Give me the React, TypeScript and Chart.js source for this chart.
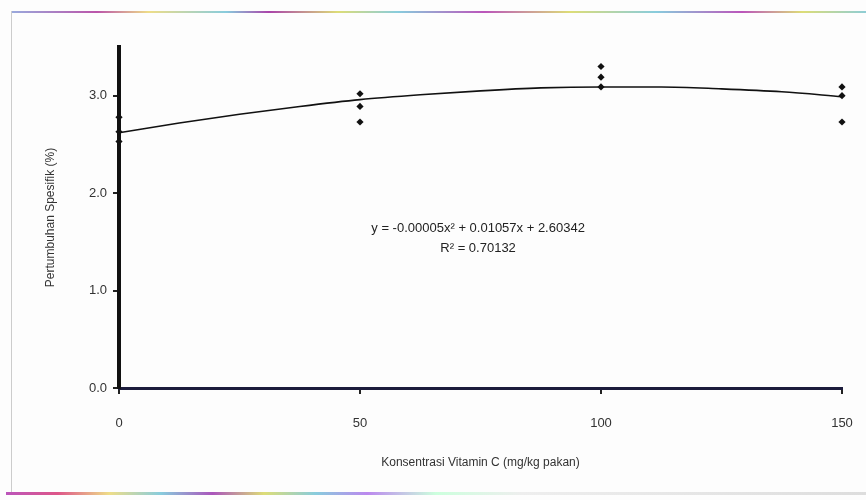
import React, { useEffect, useRef } from "react";
import { Chart, registerables } from "chart.js";

Chart.register(...registerables);

// Observed specific growth (%) per vitamin C dose (mg/kg feed)
const obsX = [0, 0, 0, 50, 50, 50, 100, 100, 100, 150, 150, 150];
const obsY = [2.78, 2.63, 2.53, 3.02, 2.89, 2.73, 3.3, 3.19, 3.09, 3.09, 3.0, 2.73];

// Polynomial trend line
const trendX = [0, 12.5, 25, 37.5, 50, 62.5, 75, 87.5, 100, 112.5, 125, 137.5, 150];
const trendY = [2.62, 2.72, 2.81, 2.89, 2.96, 3.01, 3.05, 3.08, 3.09, 3.09, 3.07, 3.04, 2.99];

const xTicks = [0, 50, 100, 150];
const yTicks = [0, 1, 2, 3];

const equationText = "y = -0.00005x\u00B2 + 0.01057x + 2.60342";
const r2Text = "R\u00B2 = 0.70132";
const xTitle = "Konsentrasi Vitamin C (mg/kg pakan)";
const yTitle = "Pertumbuhan Spesifik (%)";

const FONT = "'Liberation Sans', Arial, sans-serif";

export default function App() {
  const ref = useRef<HTMLCanvasElement | null>(null);

  useEffect(() => {
    document.body.style.margin = "0";
    const canvas = ref.current;
    if (!canvas) return;

    const textPlugin = {
      id: "equationText",
      afterDatasetsDraw(chart: any) {
        const { ctx, scales } = chart;
        const cx = scales.x.getPixelForValue(74.5);
        ctx.save();
        ctx.fillStyle = "#222";
        ctx.font = `13px ${FONT}`;
        ctx.textAlign = "center";
        ctx.textBaseline = "middle";
        ctx.fillText(equationText, cx, scales.y.getPixelForValue(1.64));
        ctx.fillText(r2Text, cx, scales.y.getPixelForValue(1.43));
        ctx.restore();
      },
    };

    const chart = new Chart(canvas, {
      type: "scatter",
      data: {
        datasets: [
          {
            type: "line",
            label: "Trend",
            data: trendX.map((x, i) => ({ x, y: trendY[i] })),
            borderColor: "#111",
            borderWidth: 1.6,
            pointRadius: 0,
            fill: false,
            clip: false,
            cubicInterpolationMode: "monotone",
          } as any,
          {
            label: "Observasi",
            data: obsX.map((x, i) => ({ x, y: obsY[i] })),
            backgroundColor: "#111",
            borderColor: "#111",
            pointStyle: "rectRot",
            pointRadius: 3.6,
            borderWidth: 0,
            clip: false,
          } as any,
        ],
      },
      options: {
        responsive: false,
        animation: false,
        devicePixelRatio: 1,
        layout: { padding: { left: 0, top: 47, right: 24, bottom: 0 } },
        plugins: { legend: { display: false }, tooltip: { enabled: false } },
        scales: {
          x: {
            type: "linear",
            min: 0,
            max: 150,
            afterBuildTicks: (s: any) => {
              s.ticks = xTicks.map((v) => ({ value: v }));
            },
            afterFit: (s: any) => {
              s.height = 112;
              s.paddingRight = 0;
              s.paddingLeft = 0;
            },
            border: { display: true, color: "#1c1c3c", width: 3 },
            grid: { display: true, drawOnChartArea: false, drawTicks: true, tickLength: 6, color: "#222", lineWidth: 2 },
            ticks: {
              padding: 22,
              color: "#333",
              font: { family: FONT, size: 13 },
              callback: (v: any) => String(v),
            },
            title: {
              display: true,
              text: xTitle,
              color: "#333",
              font: { family: FONT, size: 12 },
              padding: { top: 0, bottom: 30 },
            },
          },
          y: {
            type: "linear",
            min: 0,
            max: 3.5,
            afterBuildTicks: (s: any) => {
              s.ticks = yTicks.map((v) => ({ value: v }));
            },
            afterFit: (s: any) => {
              s.width = 119;
            },
            border: { display: true, color: "#111", width: 4 },
            grid: { display: true, drawOnChartArea: false, drawTicks: true, tickLength: 6, color: "#222", lineWidth: 2 },
            ticks: {
              padding: 6,
              color: "#333",
              font: { family: FONT, size: 13 },
              callback: (v: any) => Number(v).toFixed(1),
            },
            title: {
              display: true,
              text: yTitle,
              color: "#333",
              font: { family: FONT, size: 12 },
              padding: { top: 43, bottom: 0 },
            },
          },
        },
      },
      plugins: [textPlugin],
    });

    return () => chart.destroy();
  }, []);

  return (
    <div style={{ position: "relative", width: 866, height: 500, background: "#fdfdfd", overflow: "hidden" }}>
      <div
        style={{
          position: "absolute",
          left: 11,
          top: 11,
          width: 860,
          height: 2,
          background: "linear-gradient(90deg,#9ad 0%,#b5a 10%,#ed8 16%,#8cd 25%,#a4a 30%,#dd7 38%,#8cd 45%,#b5b 55%,#dd7 65%,#8cd 75%,#b5b 85%,#dd7 92%,#8cd 100%)",
        }}
      />
      <div style={{ position: "absolute", left: 11, top: 11, width: 1, height: 482, background: "#ccc" }} />
      <div
        style={{
          position: "absolute",
          left: 6,
          top: 492,
          width: 860,
          height: 3,
          background: "linear-gradient(90deg,#b5b 0%,#d58 6%,#ed8 12%,#8cd 18%,#a5b 24%,#dd7 30%,#8cd 36%,#b8e 42%,#cfd 50%,#eee 60%,#ddd 100%)",
        }}
      />
      <canvas ref={ref} width={866} height={500} style={{ position: "absolute", left: 0, top: 0 }} />
    </div>
  );
}
